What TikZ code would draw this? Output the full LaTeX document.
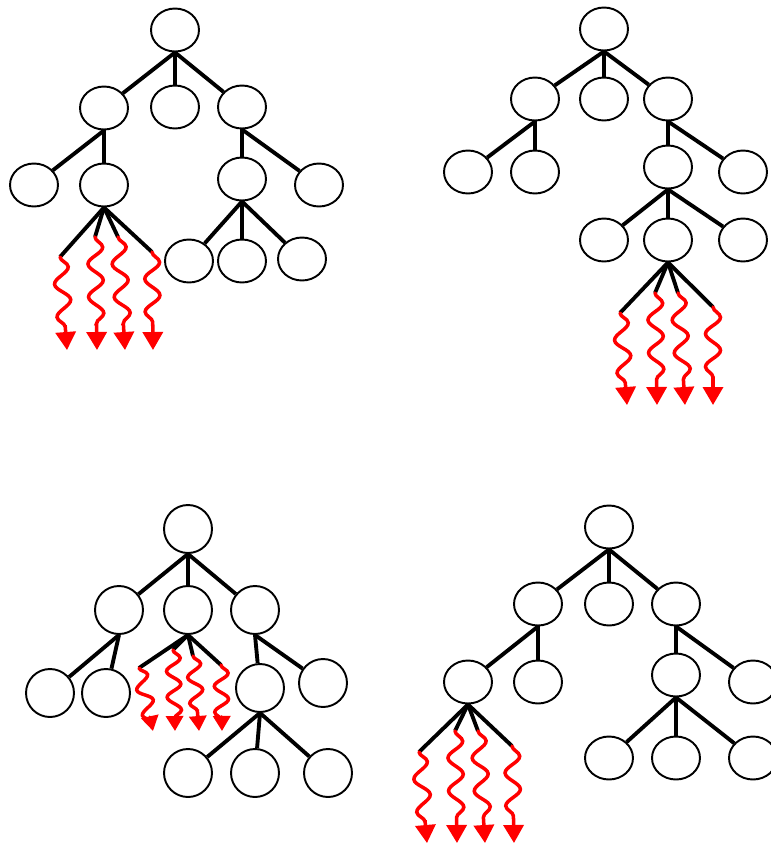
\documentclass[tikz,border=0pt]{standalone}
\usetikzlibrary{shapes.geometric,arrows.meta}
\usetikzlibrary{decorations.pathmorphing}

\tikzset{
  vtx/.style={draw, ellipse, line width=1.1pt, minimum width=0.96cm, minimum height=0.86cm, inner sep=0pt},
  rnd/.style={draw, circle, line width=1.1pt, minimum size=0.96cm, inner sep=0pt},
  branch/.style={line width=2.2pt},
  emit/.style={red, line width=2pt, line cap=round, -{Triangle[width=0.4cm,length=0.36cm]},
        decorate, decoration={snake, amplitude=0.15cm, segment length=0.66cm, post length=0.24cm}},
  emit small/.style={emit, -{Triangle[width=0.34cm,length=0.3cm]},
        decoration={segment length=0.52cm, amplitude=0.14cm, post length=0.18cm}},
}

\begin{document}
\begin{tikzpicture}[x=0.02cm,y=-0.02cm]
\clip (0,0) rectangle (771,846);

% Upper left tree
\node[vtx] (t1r) at (175,30) {};
\node[vtx] (t1a) at (104,108) {};
\node[vtx] (t1b) at (175,107) {};
\node[vtx] (t1c) at (242,107) {};
\node[vtx] (t1d) at (34,185) {};
\node[vtx] (t1e) at (104,185) {};
\node[vtx] (t1f) at (242,179) {};
\node[vtx] (t1g) at (319,185) {};
\node[vtx] (t1h) at (189,261) {};
\node[vtx] (t1i) at (242,261) {};
\node[vtx] (t1j) at (302,259) {};

\coordinate (t1w1) at (60,257);
\coordinate (t1w2) at (95,237);
\coordinate (t1w3) at (118,237);
\coordinate (t1w4) at (152,252);
\coordinate (t1p1) at (67,350);
\coordinate (t1p2) at (97,350);
\coordinate (t1p3) at (125,350);
\coordinate (t1p4) at (153,350);

\draw[branch] (t1r.south) -- (t1a);
\draw[branch] (t1r.south) -- (t1b);
\draw[branch] (t1r.south) -- (t1c);
\draw[branch] (t1a.south) -- (t1d);
\draw[branch] (t1a.south) -- (t1e);
\draw[branch] (t1c.south) -- (t1f);
\draw[branch] (t1c.south) -- (t1g);
\draw[branch] (t1f.south) -- (t1h);
\draw[branch] (t1f.south) -- (t1i);
\draw[branch] (t1f.south) -- (t1j);

\draw[branch] (t1e.south) -- (t1w1);
\draw[branch] (t1e.south) -- (t1w2);
\draw[branch] (t1e.south) -- (t1w3);
\draw[branch] (t1e.south) -- (t1w4);
\draw[emit] (t1w1) -- (t1p1);
\draw[emit] (t1w2) -- (t1p2);
\draw[emit] (t1w3) -- (t1p3);
\draw[emit] (t1w4) -- (t1p4);

% Upper right tree
\node[vtx] (t2r) at (604,29) {};
\node[vtx] (t2a) at (535,99) {};
\node[vtx] (t2b) at (604,99) {};
\node[vtx] (t2c) at (668,99) {};
\node[vtx] (t2d) at (468,172) {};
\node[vtx] (t2e) at (535,172) {};
\node[vtx] (t2f) at (668,167) {};
\node[vtx] (t2g) at (743,172) {};
\node[vtx] (t2h) at (604,240) {};
\node[vtx] (t2i) at (668,240) {};
\node[vtx] (t2j) at (743,240) {};

\coordinate (t2w1) at (620,313);
\coordinate (t2w2) at (655,293);
\coordinate (t2w3) at (678,293);
\coordinate (t2w4) at (713,307);
\coordinate (t2p1) at (627,405);
\coordinate (t2p2) at (657,405);
\coordinate (t2p3) at (685,405);
\coordinate (t2p4) at (713,405);

\draw[branch] (t2r.south) -- (t2a);
\draw[branch] (t2r.south) -- (t2b);
\draw[branch] (t2r.south) -- (t2c);
\draw[branch] (t2a.south) -- (t2d);
\draw[branch] (t2a.south) -- (t2e);
\draw[branch] (t2c.south) -- (t2f);
\draw[branch] (t2c.south) -- (t2g);
\draw[branch] (t2f.south) -- (t2h);
\draw[branch] (t2f.south) -- (t2i);
\draw[branch] (t2f.south) -- (t2j);

\draw[branch] (t2i.south) -- (t2w1);
\draw[branch] (t2i.south) -- (t2w2);
\draw[branch] (t2i.south) -- (t2w3);
\draw[branch] (t2i.south) -- (t2w4);
\draw[emit] (t2w1) -- (t2p1);
\draw[emit] (t2w2) -- (t2p2);
\draw[emit] (t2w3) -- (t2p3);
\draw[emit] (t2w4) -- (t2p4);

% Lower left tree
\node[rnd] (t3r) at (188,529) {};
\node[rnd] (t3a) at (119,610) {};
\node[rnd] (t3b) at (188,610) {};
\node[rnd] (t3c) at (255,610) {};
\node[rnd] (t3d) at (50,693) {};
\node[rnd] (t3e) at (106,693) {};
\node[rnd] (t3f) at (260,688) {};
\node[rnd] (t3g) at (323,683) {};
\node[rnd] (t3h) at (188,773) {};
\node[rnd] (t3i) at (255,773) {};
\node[rnd] (t3j) at (328,773) {};

\coordinate (t3w1) at (139,668);
\coordinate (t3w2) at (173,650);
\coordinate (t3w3) at (193,656);
\coordinate (t3w4) at (221,665);
\coordinate (t3p1) at (153,731);
\coordinate (t3p2) at (175,731);
\coordinate (t3p3) at (199,731);
\coordinate (t3p4) at (222,731);

\draw[branch] (t3r.south) -- (t3a);
\draw[branch] (t3r.south) -- (t3b);
\draw[branch] (t3r.south) -- (t3c);
\draw[branch] (t3a.south) -- (t3d);
\draw[branch] (t3a.south) -- (t3e);
\draw[branch] (t3c.south) -- (t3f);
\draw[branch] (t3c.south) -- (t3g);
\draw[branch] (t3f.south) -- (t3h);
\draw[branch] (t3f.south) -- (t3i);
\draw[branch] (t3f.south) -- (t3j);

\draw[branch] (t3b.south) -- (t3w1);
\draw[branch] (t3b.south) -- (t3w2);
\draw[branch] (t3b.south) -- (t3w3);
\draw[branch] (t3b.south) -- (t3w4);
\draw[emit small] (t3w1) -- (t3p1);
\draw[emit small] (t3w2) -- (t3p2);
\draw[emit small] (t3w3) -- (t3p3);
\draw[emit small] (t3w4) -- (t3p4);

% Lower right tree
\node[vtx] (t4r) at (609,527) {};
\node[vtx] (t4a) at (538,604) {};
\node[vtx] (t4b) at (609,604) {};
\node[vtx] (t4c) at (676,604) {};
\node[vtx] (t4d) at (468,682) {};
\node[vtx] (t4e) at (538,682) {};
\node[vtx] (t4f) at (676,675) {};
\node[vtx] (t4g) at (753,682) {};
\node[vtx] (t4h) at (609,758) {};
\node[vtx] (t4i) at (676,758) {};
\node[vtx] (t4j) at (753,758) {};

\coordinate (t4w1) at (419,752);
\coordinate (t4w2) at (455,731);
\coordinate (t4w3) at (478,731);
\coordinate (t4w4) at (512,746);
\coordinate (t4p1) at (427,843);
\coordinate (t4p2) at (457,843);
\coordinate (t4p3) at (485,843);
\coordinate (t4p4) at (514,843);

\draw[branch] (t4r.south) -- (t4a);
\draw[branch] (t4r.south) -- (t4b);
\draw[branch] (t4r.south) -- (t4c);
\draw[branch] (t4a.south) -- (t4d);
\draw[branch] (t4a.south) -- (t4e);
\draw[branch] (t4c.south) -- (t4f);
\draw[branch] (t4c.south) -- (t4g);
\draw[branch] (t4f.south) -- (t4h);
\draw[branch] (t4f.south) -- (t4i);
\draw[branch] (t4f.south) -- (t4j);

\draw[branch] (t4d.south) -- (t4w1);
\draw[branch] (t4d.south) -- (t4w2);
\draw[branch] (t4d.south) -- (t4w3);
\draw[branch] (t4d.south) -- (t4w4);
\draw[emit] (t4w1) -- (t4p1);
\draw[emit] (t4w2) -- (t4p2);
\draw[emit] (t4w3) -- (t4p3);
\draw[emit] (t4w4) -- (t4p4);
\end{tikzpicture}
\end{document}
